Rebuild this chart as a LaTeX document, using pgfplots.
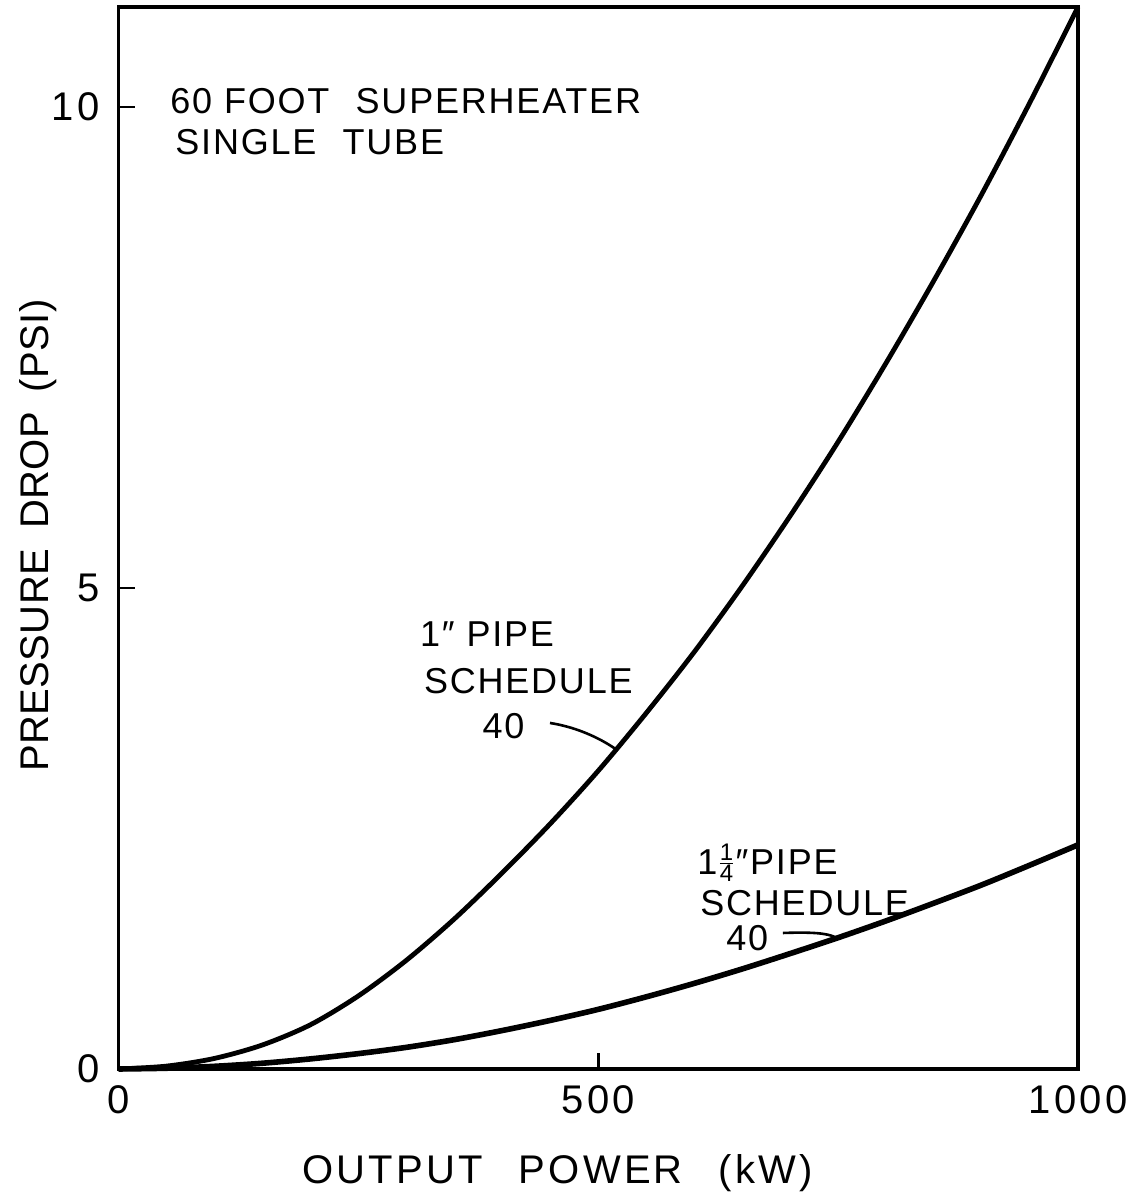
\documentclass[border=0pt]{standalone}
\usepackage{fontspec}
\setmainfont{Liberation Sans}
\usepackage{pgfplots}
\pgfplotsset{compat=1.18}
\newcommand{\lbl}{\fontsize{18}{20}\selectfont\addfontfeature{LetterSpace=5}}
\newcommand{\tlbl}{\fontsize{20}{22}\selectfont\addfontfeature{LetterSpace=8}}
\newcommand{\ylbl}{\fontsize{20}{22}\selectfont\addfontfeature{LetterSpace=1}}
\begin{document}
\begin{tikzpicture}
\begin{axis}[
  scale only axis,
  width=479.75pt, height=531pt,
  xmin=0, xmax=1000, ymin=0, ymax=11.04,
  axis line style={line width=1.6pt},
  xtick={0,500,1000}, ytick={0,5,10},
  tick pos=left, tick align=inside,
  major tick length=8pt,
  tick style={line width=1.4pt, black},
  /pgf/number format/assume math mode=true,
  /pgf/number format/1000 sep={},
  ticklabel style={font=\tlbl},
  xticklabel style={yshift=-5pt},
  yticklabel style={xshift=-6pt},
  xlabel={OUTPUT\hspace{0.9em}POWER\hspace{0.9em}(kW)},
  ylabel={PRESSURE\hspace{0.5em}DROP\hspace{0.5em}(PSI)},
  xlabel style={font=\tlbl, at={(rel axis cs:0.4577,-0.1074)}, anchor=base},
  ylabel style={font=\ylbl, at={(rel axis cs:-0.0730,0.5024)}, anchor=base, rotate=0},
  clip=false,
]
\addplot[black, line width=2.4pt, smooth] coordinates {
(0,0) (50,0.03) (100,0.11) (150,0.25) (200,0.46) (250,0.76) (300,1.13)
(350,1.56) (400,2.04) (450,2.55) (500,3.10) (550,3.70) (600,4.335)
(650,5.02) (700,5.75) (750,6.52) (800,7.34) (850,8.20) (900,9.10)
(950,10.05) (1000,11.04)};
\addplot[black, line width=2.8pt, smooth] coordinates {
(0,0) (50,0.008) (100,0.028) (150,0.06) (200,0.105) (250,0.16) (300,0.225)
(350,0.305) (400,0.40) (450,0.505) (500,0.62) (550,0.75) (600,0.89)
(650,1.04) (700,1.20) (750,1.365) (800,1.54) (850,1.725) (900,1.915)
(950,2.12) (1000,2.33)};
\node[anchor=base west, inner sep=0pt, font=\lbl] at (axis cs:53.7,9.93) {60 FOOT\hspace{0.4em} SUPERHEATER};
\node[anchor=base west, inner sep=0pt, font=\lbl] at (axis cs:58.9,9.51) {SINGLE\hspace{0.4em} TUBE};
\node[anchor=base west, inner sep=0pt, font=\lbl] at (axis cs:314,4.39) {1″ PIPE};
\node[anchor=base west, inner sep=0pt, font=\lbl] at (axis cs:318,3.90) {SCHEDULE};
\node[anchor=base west, inner sep=0pt, font=\lbl] at (axis cs:379,3.44) {40};
\node[anchor=base west, inner sep=0pt, font=\lbl] at (axis cs:603,2.02) {1\raisebox{2.5pt}{\fontsize{12}{12}\selectfont$\frac{\mbox{1}}{\mbox{4}}$}″PIPE};
\node[anchor=base west, inner sep=0pt, font=\lbl] at (axis cs:606,1.60) {SCHEDULE};
\node[anchor=base west, inner sep=0pt, font=\lbl] at (axis cs:633,1.23) {40};
\draw[line width=1.3pt] (axis cs:449.7,3.597) .. controls (axis cs:480,3.55) and (axis cs:505,3.42) .. (axis cs:519.5,3.316);
\draw[line width=1.3pt] (axis cs:692.5,1.414) .. controls (axis cs:725,1.425) and (axis cs:738,1.41) .. (axis cs:746.7,1.372);
\coordinate (BBsw) at (rel axis cs:-0.1235,-0.11676);
\coordinate (BBne) at (rel axis cs:1.0636,1.00659);
\end{axis}
\pgfresetboundingbox
\useasboundingbox (BBsw) rectangle (BBne);
\end{tikzpicture}
\end{document}
